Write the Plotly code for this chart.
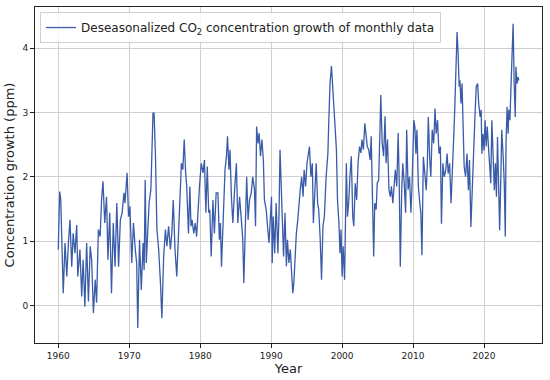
import plotly.graph_objects as go

# Decimal year of each reading and deseasonalized CO2 growth (ppm)
years = [
    1960.0, 1960.2, 1960.35, 1960.7, 1960.95, 1961.2, 1961.4, 1961.65, 1961.9, 1962.1,
    1962.35, 1962.6, 1962.75, 1963.05, 1963.3, 1963.5, 1963.75, 1964.0, 1964.25, 1964.5,
    1964.7, 1964.95, 1965.2, 1965.4, 1965.65, 1965.9, 1966.1, 1966.3, 1966.55, 1966.8,
    1967.0, 1967.25, 1967.5, 1967.75, 1968.0, 1968.25, 1968.5, 1968.75, 1969.0, 1969.25,
    1969.4, 1969.7, 1969.9, 1970.1, 1970.35, 1970.6, 1970.85, 1971.05, 1971.2, 1971.45,
    1971.7, 1971.95, 1972.1, 1972.25, 1972.4, 1972.6, 1972.8, 1973.05, 1973.2, 1973.35,
    1973.5, 1973.7, 1973.9, 1974.15, 1974.4, 1974.6, 1974.85, 1975.1, 1975.3, 1975.55,
    1975.8, 1976.0, 1976.2, 1976.45, 1976.7, 1976.95, 1977.2, 1977.35, 1977.55, 1977.75,
    1977.95, 1978.1, 1978.35, 1978.55, 1978.7, 1978.85, 1979.1, 1979.3, 1979.5, 1979.7,
    1979.9, 1980.15, 1980.4, 1980.6, 1980.8, 1981.0, 1981.2, 1981.35, 1981.55, 1981.8,
    1982.0, 1982.25, 1982.5, 1982.7, 1982.85, 1983.0, 1983.25, 1983.5, 1983.7, 1983.85,
    1984.05, 1984.2, 1984.4, 1984.6, 1984.85, 1985.1, 1985.3, 1985.55, 1985.8, 1986.0,
    1986.15, 1986.35, 1986.55, 1986.75, 1986.95, 1987.2, 1987.4, 1987.65, 1987.8, 1987.95,
    1988.15, 1988.3, 1988.5, 1988.7, 1988.9, 1989.05, 1989.3, 1989.45, 1989.7, 1989.85,
    1990.05, 1990.15, 1990.3, 1990.5, 1990.7, 1990.95, 1991.1, 1991.25, 1991.45, 1991.6,
    1991.75, 1991.95, 1992.15, 1992.3, 1992.5, 1992.7, 1992.9, 1993.05, 1993.2, 1993.35,
    1993.55, 1993.75, 1993.95, 1994.1, 1994.3, 1994.5, 1994.65, 1994.85, 1995.05, 1995.25,
    1995.4, 1995.6, 1995.8, 1995.95, 1996.15, 1996.35, 1996.55, 1996.7, 1996.9, 1997.1,
    1997.3, 1997.5, 1997.75, 1998.0, 1998.1, 1998.3, 1998.5, 1998.7, 1998.9, 1999.05,
    1999.2, 1999.35, 1999.55, 1999.7, 1999.85, 2000.0, 2000.15, 2000.35, 2000.5, 2000.6,
    2000.75, 2000.95, 2001.1, 2001.3, 2001.5, 2001.65, 2001.85, 2002.05, 2002.25, 2002.45,
    2002.65, 2002.8, 2003.0, 2003.2, 2003.35, 2003.55, 2003.75, 2003.95, 2004.1, 2004.3,
    2004.45, 2004.6, 2004.8, 2004.95, 2005.15, 2005.35, 2005.45, 2005.65, 2005.85, 2006.05,
    2006.2, 2006.4, 2006.6, 2006.8, 2006.95, 2007.15, 2007.35, 2007.5, 2007.7, 2007.9,
    2008.05, 2008.2, 2008.4, 2008.55, 2008.75, 2008.95, 2009.1, 2009.3, 2009.5, 2009.7,
    2009.85, 2010.0, 2010.1, 2010.25, 2010.4, 2010.55, 2010.75, 2010.95, 2011.1, 2011.25,
    2011.45, 2011.65, 2011.85, 2012.0, 2012.15, 2012.35, 2012.5, 2012.7, 2012.9, 2013.1,
    2013.25, 2013.45, 2013.65, 2013.85, 2014.0, 2014.2, 2014.4, 2014.6, 2014.8, 2014.95,
    2015.15, 2015.35, 2015.55, 2015.75, 2015.9, 2016.05, 2016.2, 2016.35, 2016.5, 2016.6,
    2016.75, 2016.9, 2017.0, 2017.2, 2017.4, 2017.6, 2017.8, 2017.95, 2018.15, 2018.35,
    2018.55, 2018.7, 2018.9, 2019.1, 2019.25, 2019.45, 2019.6, 2019.7, 2019.85, 2020.0,
    2020.15, 2020.3, 2020.45, 2020.6, 2020.8, 2020.95, 2021.1, 2021.3, 2021.45, 2021.6,
    2021.75, 2021.9, 2022.05, 2022.2, 2022.35, 2022.5, 2022.7, 2022.85, 2023.0, 2023.1,
    2023.25, 2023.4, 2023.5, 2023.65, 2023.8, 2023.95, 2024.1, 2024.25, 2024.4, 2024.5,
    2024.65, 2024.8, 2024.9,
]
growth = [
    0.87, 1.77, 1.64, 0.19, 0.97, 0.45, 0.92, 1.33, 0.60, 1.12,
    0.81, 1.25, 0.45, 0.87, 0.14, 0.71, -0.02, 0.97, 0.06, 0.92,
    0.71, -0.12, 0.40, 0.04, 1.18, 1.07, 1.64, 1.93, 1.28, 1.69,
    0.71, 1.44, 0.19, 1.28, 0.60, 1.59, 0.60, 1.33, 1.44, 1.75,
    1.59, 2.06, 1.38, 1.54, 0.66, 1.28, 0.87, 0.66, -0.35, 1.02,
    0.24, 0.97, 0.55, 1.95, 0.66, 1.28, 1.59, 1.80, 2.52, 2.99,
    2.99, 2.32, 1.18, 0.87, 0.35, -0.20, 0.76, 1.18, 0.92, 1.23,
    0.87, 1.12, 1.64, 0.87, 0.45, 1.12, 1.64, 2.21, 2.11, 2.58,
    2.06, 1.85, 1.12, 1.85, 1.23, 1.33, 1.12, 1.28, 1.07, 1.59,
    1.85, 2.21, 2.06, 2.26, 1.44, 2.16, 1.44, 1.49, 0.76, 1.64,
    1.12, 1.75, 1.75, 1.02, 1.28, 0.60, 1.28, 2.11, 2.32, 2.63,
    2.11, 2.42, 1.69, 1.28, 1.80, 2.21, 1.28, 1.69, 1.33, 1.02,
    0.35, 1.28, 2.00, 1.33, 1.64, 1.75, 2.00, 1.80, 1.23, 2.78,
    2.52, 2.68, 2.32, 2.58, 2.26, 1.64, 1.49, 1.28, 0.97, 1.28,
    1.69, 0.66, 1.38, 0.81, 1.59, 0.81, 1.38, 2.42, 1.75, 1.23,
    0.76, 1.44, 0.61, 1.02, 0.66, 0.87, 0.45, 0.19, 0.35, 0.76,
    1.12, 1.33, 1.69, 1.80, 2.00, 1.69, 2.11, 1.85, 2.21, 2.37,
    2.47, 2.00, 2.21, 1.28, 1.90, 2.21, 1.59, 1.49, 1.07, 0.40,
    1.23, 1.38, 2.00, 2.37, 2.78, 3.46, 3.72, 3.35, 3.15, 2.78,
    2.42, 1.64, 1.28, 0.81, 1.18, 0.45, 0.92, 0.40, 1.38, 2.21,
    1.38, 1.64, 2.00, 2.32, 1.38, 1.23, 1.90, 1.64, 2.21, 2.47,
    2.37, 2.58, 2.42, 2.83, 2.68, 2.47, 2.42, 2.26, 2.63, 1.49,
    0.76, 1.59, 1.49, 1.90, 1.95, 2.78, 3.27, 2.52, 2.32, 2.94,
    2.21, 2.58, 1.80, 1.69, 1.85, 1.59, 2.00, 2.11, 1.85, 2.68,
    1.90, 0.60, 1.80, 2.21, 1.90, 1.44, 2.73, 1.80, 2.00, 1.44,
    1.85, 2.42, 2.88, 2.78, 2.36, 2.73, 1.84, 1.59, 1.43, 0.78,
    2.31, 2.05, 1.79, 2.16, 2.93, 2.26, 2.00, 2.73, 2.52, 3.06,
    2.67, 2.88, 2.36, 2.47, 1.27, 2.21, 2.00, 2.10, 2.36, 2.05,
    2.21, 1.59, 2.31, 2.67, 3.14, 3.81, 4.25, 3.91, 3.40, 3.50,
    3.14, 3.45, 2.93, 2.16, 2.00, 2.36, 1.79, 2.26, 1.22, 1.90,
    2.62, 2.88, 3.40, 3.45, 3.14, 2.93, 3.04, 2.36, 2.67, 2.41,
    2.88, 2.47, 2.78, 2.52, 2.16, 1.90, 2.88, 2.00, 1.79, 2.21,
    1.69, 2.62, 2.00, 1.17, 1.90, 2.73, 2.31, 1.90, 1.07, 2.52,
    3.09, 2.67, 3.04, 2.88, 3.40, 3.92, 4.38, 3.45, 2.93, 3.71,
    3.45, 3.55, 3.50,
]

x_ticks = [1960, 1970, 1980, 1990, 2000, 2010, 2020]
y_ticks = [0, 1, 2, 3, 4]

FONT = "DejaVu Sans, Liberation Sans, sans-serif"
LINE_COLOR = "#3a5ca8"

fig = go.Figure()
fig.add_trace(go.Scatter(
    x=years, y=growth, mode="lines",
    line=dict(color=LINE_COLOR, width=1.3),
    name="Deseasonalized CO<sub>2</sub> concentration growth of monthly data",
))

axis_common = dict(
    showgrid=True, gridcolor="#cfcfcf", gridwidth=1,
    showline=True, linecolor="#222222", linewidth=1, mirror=True,
    ticks="outside", ticklen=4, tickwidth=1, tickcolor="#222222",
    tickfont=dict(family=FONT, size=9, color="#222222"),
    zeroline=False, automargin=False,
)

fig.update_layout(
    width=550, height=380,
    margin=dict(l=35, r=8, t=7, b=37),
    paper_bgcolor="white", plot_bgcolor="white",
    font=dict(family=FONT, color="#222222"),
    showlegend=True,
    legend=dict(
        x=0.01, y=0.985, xanchor="left", yanchor="top",
        bgcolor="rgba(255,255,255,0.85)", bordercolor="#d0d0d0", borderwidth=1,
        font=dict(family=FONT, size=12, color="#222222"),
        itemwidth=30,
    ),
    xaxis=dict(
        range=[1956.72, 2028.17], tickvals=x_ticks,
        title=dict(text="Year", font=dict(family=FONT, size=13), standoff=2),
        **axis_common,
    ),
    yaxis=dict(
        range=[-0.585, 4.64], tickvals=y_ticks,
        title=dict(text="Concentration growth (ppm)", font=dict(family=FONT, size=13), standoff=4),
        **axis_common,
    ),
)

fig.write_html(
    "out.html",
    config={"displayModeBar": False},
    post_script="document.body.style.margin='0';document.body.style.overflow='hidden';",
)
